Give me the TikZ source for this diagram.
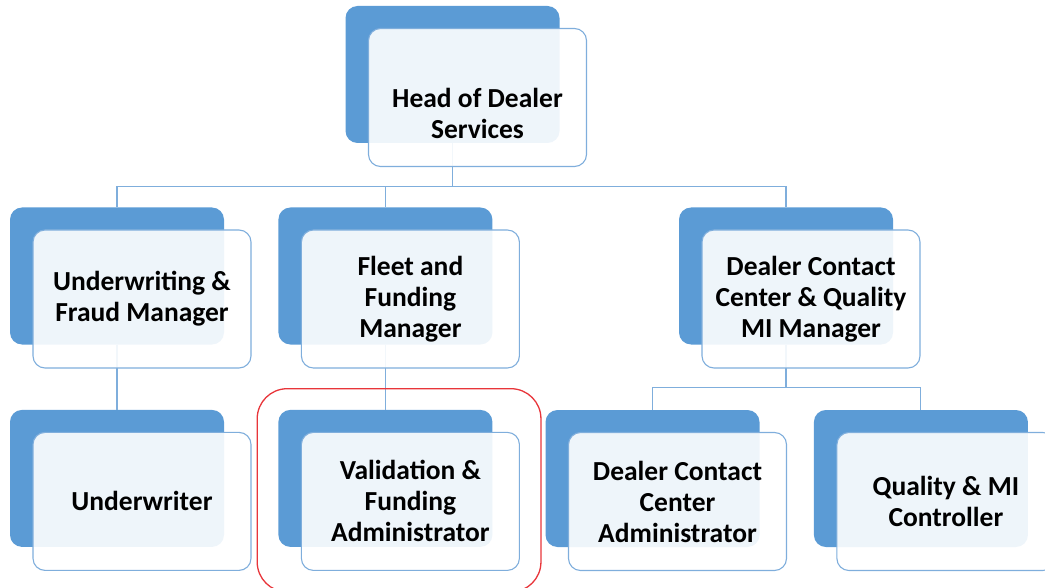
\documentclass[tikz,border=0pt]{standalone}
\usepackage{fontspec}
\setmainfont{Carlito}
\usetikzlibrary{positioning,fit}

\definecolor{tileblue}{HTML}{5B9BD5}
\definecolor{tileedge}{HTML}{7FAEDC}
\definecolor{markred}{HTML}{E8353A}

\begin{document}
\begin{tikzpicture}[
    x=1pt, y=1pt,
    node distance=65pt and 55pt,
    back/.style={fill=tileblue, rounded corners=12pt, minimum width=214pt, minimum height=137pt, inner sep=0pt},
    front/.style={draw=tileedge, line width=1.1pt, fill=white, fill opacity=0.9, text opacity=1, rounded corners=12pt, minimum width=218pt, minimum height=138pt, inner sep=0pt, align=center, font=\bfseries\fontsize{27.5}{31}\selectfont},
    link/.style={draw=tileedge, line width=1.1pt},
    highlight/.style={draw=markred, line width=1.3pt, rounded corners=30pt, inner sep=21pt}
]
\useasboundingbox (0,0) rectangle (1045,-588);

% Back tiles
\node[back] (head) at (452.5,-74.5) {};
\node[back] (uw) at (117,-276) {};
\node[back, right=54pt of uw] (fleet) {};
\node[back] (dcc) at (786,-276) {};
\node[back, below=of uw] (uwr) {};
\node[back, below=of fleet] (valid) {};
\node[back] (dcca) at (652.5,-478.5) {};
\node[back, right=54pt of dcca] (qmc) {};

% Reporting lines
\draw[link] (head.south) -- ++(0,-43) coordinate (hbus);
\draw[link] (hbus) -| (uw.north);
\draw[link] (hbus) -| (fleet.north);
\draw[link] (hbus) -| (dcc.north);
\draw[link] (uw.south) -- (uwr.north);
\draw[link] (fleet.south) -- (valid.north);
\draw[link] (dcc.south) -- ++(0,-43) coordinate (dbus);
\draw[link] (dbus) -| (dcca.north);
\draw[link] (dbus) -| (qmc.north);

% Front cards with the role names
\node[front, label={[align=center, text opacity=1, font=\bfseries\fontsize{27.5}{31}\selectfont, yshift=-15.5pt]center:Head of Dealer\\Services}] (headtx) at ([shift={(25,-23)}]head.center) {};
\node[front] (uwtx) at ([shift={(25,-23)}]uw.center) {Underwriting \&\\Fraud Manager};
\node[front] (fleettx) at ([shift={(25,-23)}]fleet.center) {Fleet and\\Funding\\Manager};
\node[front] (dcctx) at ([shift={(25,-23)}]dcc.center) {Dealer Contact\\Center \& Quality\\MI Manager};
\node[front] (uwrtx) at ([shift={(25,-23)}]uwr.center) {Underwriter};
\node[front] (validtx) at ([shift={(25,-23)}]valid.center) {Validation \&\\Funding\\Administrator};
\node[front] (dccatx) at ([shift={(25,-23)}]dcca.center) {Dealer Contact\\Center\\Administrator};
\node[front] (qmctx) at ([shift={(25,-23)}]qmc.center) {Quality \& MI\\Controller};

% Marked role
\node[highlight, fit=(valid)(validtx)] (focus) {};

\end{tikzpicture}
\end{document}
